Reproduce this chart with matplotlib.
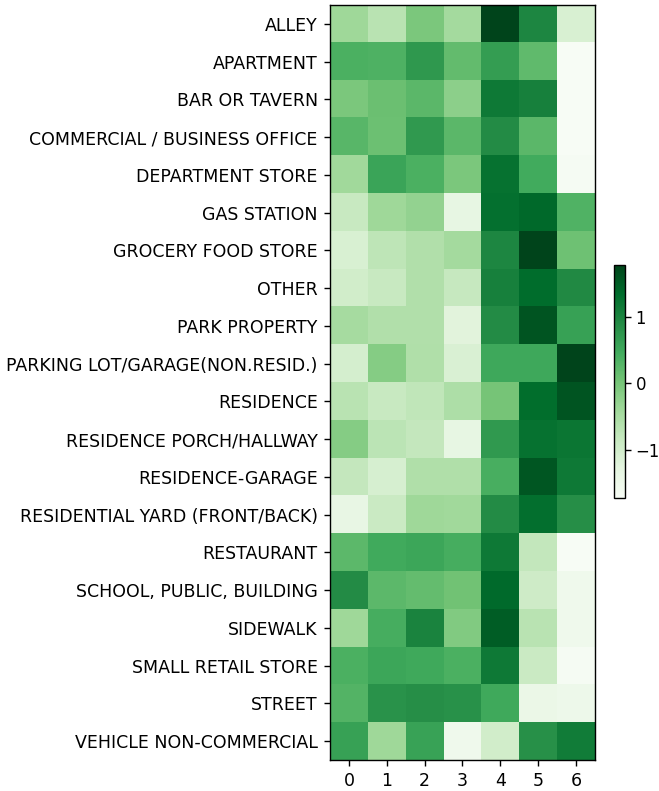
import numpy as np
import matplotlib.pyplot as plt

locations = [
    "ALLEY", "APARTMENT", "BAR OR TAVERN", "COMMERCIAL / BUSINESS OFFICE",
    "DEPARTMENT STORE", "GAS STATION", "GROCERY FOOD STORE", "OTHER",
    "PARK PROPERTY", "PARKING LOT/GARAGE(NON.RESID.)", "RESIDENCE",
    "RESIDENCE PORCH/HALLWAY", "RESIDENCE-GARAGE", "RESIDENTIAL YARD (FRONT/BACK)",
    "RESTAURANT", "SCHOOL, PUBLIC, BUILDING", "SIDEWALK", "SMALL RETAIL STORE",
    "STREET", "VEHICLE NON-COMMERCIAL",
]
days = [0, 1, 2, 3, 4, 5, 6]
cbar_ticks = [-1, 0, 1]

# standardized counts per location (rows) and day (columns)
z_scores = [
    [-0.40, -0.70, -0.05, -0.45, 1.78, 0.97, -1.10],
    [0.37, 0.35, 0.72, 0.17, 0.65, 0.20, -1.73],
    [-0.05, 0.10, 0.24, -0.22, 1.15, 1.05, -1.73],
    [0.26, 0.08, 0.70, 0.24, 0.90, 0.24, -1.73],
    [-0.42, 0.55, 0.38, -0.05, 1.25, 0.46, -1.70],
    [-0.87, -0.40, -0.28, -1.35, 1.28, 1.38, 0.34],
    [-1.10, -0.75, -0.60, -0.45, 0.97, 1.78, 0.07],
    [-1.00, -0.87, -0.60, -0.85, 1.05, 1.34, 0.92],
    [-0.47, -0.60, -0.60, -1.25, 0.90, 1.60, 0.60],
    [-1.05, -0.15, -0.58, -1.12, 0.50, 0.50, 1.78],
    [-0.70, -0.87, -0.78, -0.56, 0.00, 1.32, 1.60],
    [-0.15, -0.72, -0.82, -1.35, 0.70, 1.25, 1.20],
    [-0.82, -1.08, -0.58, -0.58, 0.40, 1.58, 1.15],
    [-1.38, -0.90, -0.40, -0.42, 0.90, 1.30, 0.85],
    [0.23, 0.47, 0.52, 0.42, 1.15, -0.80, -1.72],
    [0.90, 0.22, 0.15, 0.05, 1.36, -0.95, -1.55],
    [-0.40, 0.42, 1.00, -0.10, 1.50, -0.70, -1.55],
    [0.38, 0.52, 0.48, 0.38, 1.15, -0.90, -1.70],
    [0.30, 0.80, 0.85, 0.82, 0.48, -1.45, -1.50],
    [0.60, -0.40, 0.58, -1.55, -1.00, 0.83, 1.12],
]

DPI = 125
fig = plt.figure(figsize=(659 / DPI, 791 / DPI), dpi=DPI)
ax = fig.add_axes([0.5008, 0.0392, 0.402, 0.9545])
im = ax.imshow(np.array(z_scores), cmap="Greens", aspect="auto")
ax.set_yticks(range(len(locations)))
ax.set_yticklabels(locations)
ax.set_xticks(range(len(days)))
ax.set_xticklabels(days)

cax = fig.add_axes([0.932, 0.3704, 0.0167, 0.2946])
cbar = fig.colorbar(im, cax=cax)
cbar.set_ticks(cbar_ticks)
cbar.ax.tick_params(labelsize=9.5, pad=2.5)

plt.savefig("out.png", dpi=DPI)
